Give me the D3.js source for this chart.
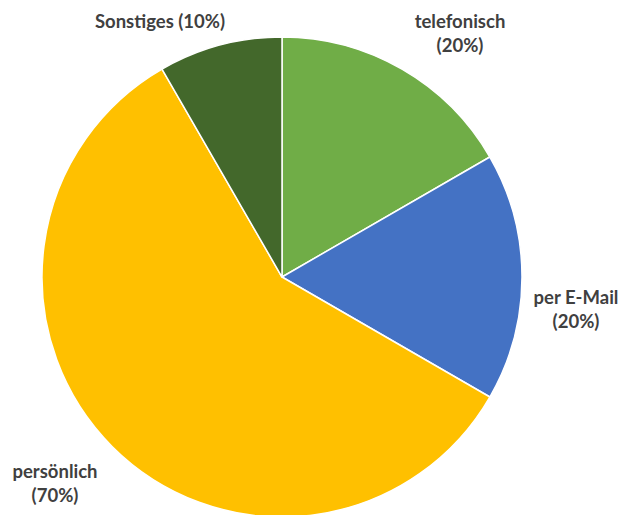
<!DOCTYPE html>
<html>
<head>
<meta charset="utf-8">
<script src="https://cdn.jsdelivr.net/npm/d3@7"></script>
<style>
  html, body { margin: 0; padding: 0; background: #fff; }
  svg { display: block; }
  .lbl { font-family: Lato, "Open Sans", sans-serif; font-weight: bold; font-size: 18.5px; fill: #404040; }
</style>
</head>
<body>
<svg id="chart" width="630" height="515"></svg>
<script>
// Kontaktwege (Anteile laut Beschriftung)
const categories = ["telefonisch", "per E-Mail", "persönlich", "Sonstiges"];
const values = [20, 20, 70, 10];
const shareLabels = ["20%", "20%", "70%", "10%"];
const colors = ["#70AD47", "#4472C4", "#FFC000", "#43682B"];

// Label layout: anchor point and whether name and share share one line
const labelLayout = [
  { x: 460, y: 21, oneLine: false },
  { x: 576, y: 297, oneLine: false },
  { x: 55, y: 471, oneLine: false },
  { x: 160, y: 21, oneLine: true }
];

const width = 630, height = 515;
const cx = 282, cy = 277, radius = 240;

const svg = d3.select("#chart");
const g = svg.append("g").attr("transform", `translate(${cx},${cy})`);

const pie = d3.pie().sort(null).value(d => d.value);
const arc = d3.arc().innerRadius(0).outerRadius(radius);

const data = categories.map((c, i) => ({ name: c, value: values[i], share: shareLabels[i], color: colors[i] }));

g.selectAll("path")
  .data(pie(data))
  .join("path")
  .attr("d", arc)
  .attr("fill", d => d.data.color)
  .attr("stroke", "#fff")
  .attr("stroke-width", 1.5)
  .attr("stroke-linejoin", "round");

const labels = svg.append("g");
data.forEach((d, i) => {
  const L = labelLayout[i];
  const t = labels.append("text")
    .attr("class", "lbl")
    .attr("text-anchor", "middle")
    .attr("x", L.x)
    .attr("y", L.y)
    .attr("dominant-baseline", "central");
  if (L.oneLine) {
    t.text(`${d.name} (${d.share})`);
  } else {
    t.append("tspan").attr("x", L.x).attr("dy", 0).text(d.name);
    t.append("tspan").attr("x", L.x).attr("dy", 24).text(`(${d.share})`);
  }
});
</script>
</body>
</html>
